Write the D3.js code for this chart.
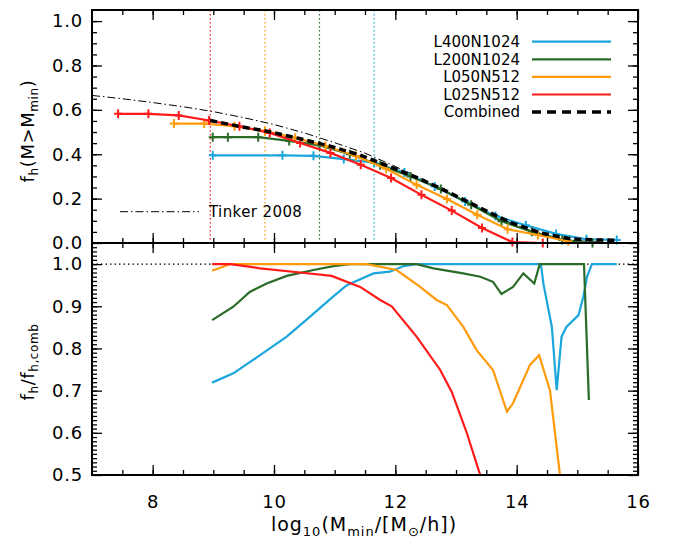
<!DOCTYPE html>
<html>
<head>
<meta charset="utf-8">
<script src="https://cdn.jsdelivr.net/npm/d3@7"></script>
<style>
body { margin: 0; background: #fff; }
text { font-family: "DejaVu Sans", sans-serif; }
</style>
</head>
<body>
<svg id="chart" width="674" height="542"></svg>
<script>
// top panel: f_h(M > Mmin)
var redX = [7.43, 7.93, 8.43, 8.93, 9.43, 9.93, 10.43, 10.93, 11.43, 11.93, 12.43, 12.93, 13.43, 13.93, 14.43];
var redY = [0.582, 0.582, 0.575, 0.552, 0.526, 0.496, 0.451, 0.406, 0.353, 0.293, 0.217, 0.146, 0.068, 0.004, 0.0];
var orangeX = [8.35, 8.85, 9.35, 9.85, 10.35, 10.85, 11.35, 11.85, 12.35, 12.85, 13.35, 13.85, 14.35, 14.85];
var orangeY = [0.538, 0.538, 0.526, 0.504, 0.474, 0.437, 0.392, 0.335, 0.262, 0.198, 0.127, 0.062, 0.036, 0.008];
var greenX = [8.99, 9.24, 9.74, 10.25, 10.75, 11.25, 11.75, 12.25, 12.75, 13.25, 13.75, 14.25, 14.75, 15.25];
var greenY = [0.477, 0.477, 0.477, 0.460, 0.440, 0.400, 0.350, 0.300, 0.243, 0.172, 0.098, 0.051, 0.014, 0.0];
var cyanX = [8.99, 10.14, 10.65, 11.15, 11.65, 12.15, 12.65, 13.15, 13.65, 14.15, 14.65, 15.15, 15.65];
var cyanY = [0.395, 0.395, 0.393, 0.378, 0.362, 0.318, 0.255, 0.187, 0.122, 0.080, 0.041, 0.017, 0.014];
var combX = [8.95, 9.4, 9.9, 10.4, 10.9, 11.4, 11.9, 12.4, 12.9, 13.4, 13.9, 14.4, 14.9, 15.4, 15.65];
var combY = [0.552, 0.527, 0.503, 0.472, 0.438, 0.398, 0.345, 0.290, 0.226, 0.158, 0.092, 0.045, 0.018, 0.013, 0.012];
var tinkerX = [7, 7.5, 8, 8.5, 9, 9.5, 10, 10.5, 11, 11.5, 12, 12.5, 13, 13.5, 14, 14.5, 15, 15.5, 16];
var tinkerY = [0.665, 0.65, 0.633, 0.614, 0.592, 0.565, 0.534, 0.496, 0.452, 0.405, 0.345, 0.28, 0.21, 0.14, 0.078, 0.033, 0.01, 0.002, 0];

// resolution limits
var limitX = [8.95, 9.85, 10.75, 11.65];

// bottom panel: f_h / f_h,comb
var redRX = [8.98, 9.28, 9.77, 10.43, 10.95, 11.42, 11.75, 11.94, 12.35, 12.74, 12.93, 13.18, 13.39, 13.45];
var redRY = [1.0, 1.0, 0.99, 0.98, 0.972, 0.946, 0.915, 0.90, 0.828, 0.749, 0.697, 0.599, 0.504, 0.47];
var orangeRX = [8.98, 9.28, 11.53, 12.02, 12.41, 12.68, 12.85, 13.12, 13.34, 13.61, 13.84, 13.94, 14.22, 14.37, 14.55, 14.71, 14.75];
var orangeRY = [0.984, 1.0, 1.0, 0.986, 0.946, 0.915, 0.903, 0.851, 0.796, 0.749, 0.65, 0.67, 0.761, 0.784, 0.70, 0.504, 0.45];
var greenRX = [8.98, 9.33, 9.6, 9.88, 10.21, 10.65, 10.98, 11.25, 12.35, 12.63, 13.12, 13.4, 13.61, 13.75, 13.94, 14.11, 14.29, 14.38, 15.11, 15.19];
var greenRY = [0.867, 0.899, 0.934, 0.954, 0.972, 0.986, 0.995, 1.0, 1.0, 0.99, 0.978, 0.97, 0.958, 0.929, 0.946, 0.978, 0.954, 1.0, 1.0, 0.678];
var cyanRX = [8.98, 9.33, 9.77, 10.21, 10.59, 10.95, 11.2, 11.64, 11.91, 12.13, 12.35, 14.4, 14.44, 14.58, 14.66, 14.74, 14.82, 15.02, 15.1, 15.16, 15.24, 15.65];
var cyanRY = [0.719, 0.741, 0.784, 0.828, 0.875, 0.92, 0.95, 0.978, 0.982, 0.995, 1.0, 1.0, 0.954, 0.851, 0.701, 0.828, 0.851, 0.879, 0.923, 0.97, 1.0, 1.0];

var names = ["L400N1024", "L200N1024", "L050N512", "L025N512", "Combined"];
var colors = ["#1ba6dc", "#2a6b27", "#ff9b0a", "#ff1a1a", "#000"];

var xMajor = [8, 10, 12, 14, 16];
var xMinor = d3.range(7.5, 16, 0.5);
var yTopMajor = [0, 0.2, 0.4, 0.6, 0.8, 1.0];
var yTopMinor = d3.range(0.05, 1.05, 0.05);
var yBotMajor = [0.5, 0.6, 0.7, 0.8, 0.9, 1.0];
var yBotMinor = d3.range(0.51, 1.05, 0.01);

var svg = d3.select("#chart");
var pLeft = 92, pRight = 638, pTop = 10, pMid = 243, pBottom = 475;

var x = d3.scaleLinear().domain([7, 16]).range([pLeft, pRight]);
var yTop = d3.scaleLinear().domain([0, 1.05]).range([pMid, pTop]);
var yBot = d3.scaleLinear().domain([0.5, 1.05]).range([pBottom, pMid]);

function zip(a, b) { return a.map(function (v, i) { return [v, b[i]]; }); }

svg.append("clipPath").attr("id", "clipBot")
   .append("rect").attr("x", pLeft).attr("y", pMid).attr("width", pRight - pLeft).attr("height", pBottom - pMid);

// ---- axes
function addAxis(gen, scale, values, size, tx, ty, labels, pad) {
  var a = gen(scale).tickValues(values).tickSizeInner(-size).tickSizeOuter(0).tickPadding(pad || 8);
  a.tickFormat(labels ? d3.format(".1f") : "");
  var g = svg.append("g").attr("transform", "translate(" + tx + "," + ty + ")").call(a);
  g.select(".domain").remove();
  g.selectAll(".tick line").attr("stroke", "#000").attr("stroke-width", 1.3);
  g.attr("font-size", 18).attr("font-family", "DejaVu Sans, sans-serif");
  g.selectAll("text").attr("fill", "#000").attr("letter-spacing", 0.8);
  return g;
}

// top panel
addAxis(d3.axisLeft, yTop, yTopMinor, 5, pLeft, 0, false);
addAxis(d3.axisLeft, yTop, yTopMajor, 10, pLeft, 0, true, 9);
addAxis(d3.axisRight, yTop, yTopMinor, 5, pRight, 0, false);
addAxis(d3.axisRight, yTop, yTopMajor, 10, pRight, 0, false);
addAxis(d3.axisTop, x, xMinor, 5, 0, pTop, false);
addAxis(d3.axisTop, x, xMajor, 10, 0, pTop, false);
addAxis(d3.axisBottom, x, xMinor, 5, 0, pMid, false);
addAxis(d3.axisBottom, x, xMajor, 10, 0, pMid, false);

// bottom panel
addAxis(d3.axisLeft, yBot, yBotMinor, 5, pLeft, 0, false);
addAxis(d3.axisLeft, yBot, yBotMajor, 10, pLeft, 0, true, 9);
addAxis(d3.axisRight, yBot, yBotMinor, 5, pRight, 0, false);
addAxis(d3.axisRight, yBot, yBotMajor, 10, pRight, 0, false);
addAxis(d3.axisTop, x, xMinor, 5, 0, pMid, false);
addAxis(d3.axisTop, x, xMajor, 10, 0, pMid, false);
addAxis(d3.axisBottom, x, xMinor, 5, 0, pBottom, false);
var xa = addAxis(d3.axisBottom, x, xMajor, 10, 0, pBottom, false, 20);
xa.selectAll(".tick text").text(function (d) { return d; });

// ---- top panel content
svg.selectAll(".limit").data(limitX).enter().append("line")
   .attr("x1", function (d) { return x(d); }).attr("x2", function (d) { return x(d); })
   .attr("y1", pTop).attr("y2", pMid)
   .attr("stroke", function (d, i) { return colors[3 - i]; })
   .attr("stroke-width", 1.2).attr("stroke-dasharray", "1.5,2.5");

var lineTop = d3.line().x(function (d) { return x(d[0]); }).y(function (d) { return yTop(d[1]); });
var lineBot = d3.line().x(function (d) { return x(d[0]); }).y(function (d) { return yBot(d[1]); });

svg.append("path").datum(zip(tinkerX, tinkerY)).attr("d", lineTop)
   .attr("fill", "none").attr("stroke", "#000").attr("stroke-width", 1)
   .attr("stroke-dasharray", "8,3,1.5,3");

var topSeries = [[cyanX, cyanY], [greenX, greenY], [orangeX, orangeY], [redX, redY]];
topSeries.forEach(function (s, i) {
  var pts = zip(s[0], s[1]);
  svg.append("path").datum(pts).attr("d", lineTop)
     .attr("fill", "none").attr("stroke", colors[i]).attr("stroke-width", 2.2);
  svg.selectAll(null).data(pts).enter().append("path")
     .attr("transform", function (d) { return "translate(" + x(d[0]) + "," + yTop(d[1]) + ")"; })
     .attr("d", "M-4,0H4M0,-4.5V4.5")
     .attr("stroke", colors[i]).attr("stroke-width", 2);
});

svg.append("path").datum(zip(combX, combY)).attr("d", lineTop)
   .attr("fill", "none").attr("stroke", "#000").attr("stroke-width", 3.5)
   .attr("stroke-dasharray", "7,4");

// legend
var legY = [41.7, 59.3, 76.9, 94.5, 112.1];
names.forEach(function (n, i) {
  svg.append("text").attr("x", 520).attr("y", legY[i] + 5.3)
     .attr("text-anchor", "end").attr("font-size", 15).text(n);
  svg.append("line").attr("x1", 532).attr("x2", 611).attr("y1", legY[i]).attr("y2", legY[i])
     .attr("stroke", colors[i]).attr("stroke-width", i === 4 ? 3.5 : 2.2)
     .attr("stroke-dasharray", i === 4 ? "9,6" : null);
});
svg.append("line").attr("x1", 120).attr("x2", 199).attr("y1", 211.7).attr("y2", 211.7)
   .attr("stroke", "#000").attr("stroke-width", 1).attr("stroke-dasharray", "8,3,1.5,3");
svg.append("text").attr("x", 209).attr("y", 217).attr("font-size", 15).attr("letter-spacing", 0.4).text("Tinker 2008");

// ---- bottom panel content
var gb = svg.append("g").attr("clip-path", "url(#clipBot)");
gb.append("line").attr("x1", pLeft).attr("x2", pRight).attr("y1", yBot(1)).attr("y2", yBot(1))
  .attr("stroke", "#000").attr("stroke-width", 1.2).attr("stroke-dasharray", "1.5,3");
var botSeries = [[cyanRX, cyanRY], [greenRX, greenRY], [orangeRX, orangeRY], [redRX, redRY]];
botSeries.forEach(function (s, i) {
  gb.append("path").datum(zip(s[0], s[1])).attr("d", lineBot)
    .attr("fill", "none").attr("stroke", colors[i]).attr("stroke-width", 2.2);
});

// frames
svg.append("rect").attr("x", pLeft).attr("y", pTop).attr("width", pRight - pLeft).attr("height", pMid - pTop)
   .attr("fill", "none").attr("stroke", "#000").attr("stroke-width", 2);
svg.append("rect").attr("x", pLeft).attr("y", pMid).attr("width", pRight - pLeft).attr("height", pBottom - pMid)
   .attr("fill", "none").attr("stroke", "#000").attr("stroke-width", 2);

// axis titles
var t1 = svg.append("text").attr("transform", "translate(34,131) rotate(-90)")
   .attr("text-anchor", "middle").attr("font-size", 18).attr("letter-spacing", 0.6);
t1.append("tspan").text("f");
t1.append("tspan").attr("font-size", 12).attr("dy", 4).text("h");
t1.append("tspan").attr("dy", -4).text("(M>M");
t1.append("tspan").attr("font-size", 12).attr("dy", 4).text("min");
t1.append("tspan").attr("dy", -4).text(")");

var t2 = svg.append("text").attr("transform", "translate(34,362) rotate(-90)")
   .attr("text-anchor", "middle").attr("font-size", 18).attr("letter-spacing", 0.6);
t2.append("tspan").text("f");
t2.append("tspan").attr("font-size", 12).attr("dy", 4).text("h");
t2.append("tspan").attr("dy", -4).text("/f");
t2.append("tspan").attr("font-size", 12).attr("dy", 4).text("h,comb");

var t3 = svg.append("text").attr("x", 364).attr("y", 531)
   .attr("text-anchor", "middle").attr("font-size", 19).attr("letter-spacing", 1);
t3.append("tspan").text("log");
t3.append("tspan").attr("font-size", 13).attr("dy", 5).text("10");
t3.append("tspan").attr("dy", -5).text("(M");
t3.append("tspan").attr("font-size", 13).attr("dy", 5).text("min");
t3.append("tspan").attr("dy", -5).text("/[M");
t3.append("tspan").attr("font-size", 13).attr("dy", 5).text("\u2299");
t3.append("tspan").attr("dy", -5).text("/h])");
</script>
</body>
</html>
